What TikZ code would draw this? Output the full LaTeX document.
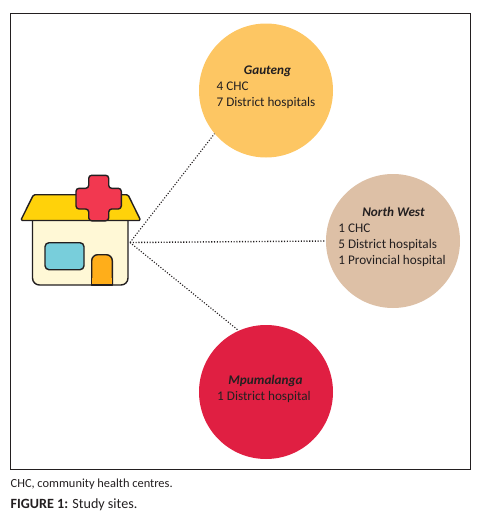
\documentclass[tikz,border=0pt]{standalone}
\usepackage{fontspec}
\setmainfont{Carlito}
\usepackage{xcolor}
\usepackage{tikz}
\definecolor{gautengc}{HTML}{FDC663}
\definecolor{northwestc}{HTML}{DDC0A6}
\definecolor{mpumalangac}{HTML}{E01F42}
\definecolor{roofc}{HTML}{FFD20A}
\definecolor{wallc}{HTML}{FFF8D6}
\definecolor{crossc}{HTML}{F23850}
\definecolor{windowc}{HTML}{78CEDB}
\definecolor{doorc}{HTML}{FFAE1A}
\definecolor{inkc}{HTML}{231F20}
\tikzset{
site/.style={circle,minimum size=134pt,inner sep=0pt},
sitetext/.style={align=left,inner sep=0pt,text=inkc,font=\fontsize{13.2}{16}\selectfont},
siteline/.style={line width=1.1pt,dash pattern=on 1.1pt off 1.7pt,inkc},
house/.style={line width=1.4pt,draw=inkc,line join=round},
note/.style={anchor=west,inner sep=0pt,text=inkc}
}
\newcommand{\sitename}[1]{\multicolumn{1}{c}{\hspace{3pt}\textbf{\textit{#1}}}}
\begin{document}
\begin{tikzpicture}[x=1pt,y=-1pt]
\useasboundingbox(0,0)rectangle(479,522);
\draw[line width=1pt,inkc](10.5,13.5)rectangle(470.5,469.5);
\node[site,fill=gautengc](gauteng)at(266,90.5){};
\node[site,fill=northwestc](northwest)at(393,241){};
\node[site,fill=mpumalangac](mpumalanga)at(266,392){};
\node[sitetext](gautengtext)at(266,87){\begin{tabular}{@{}l@{}}\sitename{Gauteng}\\4 CHC\\7 District hospitals\end{tabular}};
\node[sitetext](northwesttext)at(392,237){\begin{tabular}{@{}l@{}}\sitename{North West}\\1 CHC\\5 District hospitals\\1 Provincial hospital\end{tabular}};
\node[sitetext](mpumalangatext)at(264,389.5){\begin{tabular}{@{}l@{}}\sitename{Mpumalanga}\\1 District hospital\end{tabular}};
\coordinate(hub)at(130,242.5);
\draw[siteline](hub)--(gauteng.220);
\draw[siteline,line width=1.4pt](hub)--(northwest.west);
\draw[siteline](hub)--(mpumalanga.114);
% house
\draw[house,fill=wallc,rounded corners=7pt](32.5,221)--(32.5,285)--(128,285)--(128,221);
\draw[house,fill=windowc,rounded corners=4pt](45,242.7)rectangle(84,269.7);
\draw[house,fill=doorc,rounded corners=6pt](91.7,285)--(91.7,254.7)--(112.3,254.7)--(112.3,285);
\draw[house,fill=doorc](91.7,278)--(91.7,285)--(112.3,285)--(112.3,278);
\draw[house,fill=roofc,rounded corners=1.5pt](33.5,194.7)--(128,194.7)--(140.7,220.5)--(20.7,220.5)--cycle;
\draw[house,fill=crossc,rounded corners=3pt](88.7,175.3)--(108.7,175.3)--(108.7,188.3)--(121.3,188.3)--(121.3,209)--(108.7,209)--(108.7,220.8)--(88.7,220.8)--(88.7,209)--(76,209)--(76,188.3)--(88.7,188.3)--cycle;
\node[note,font=\fontsize{12.4}{14}\selectfont](abbrev)at(10.5,484){CHC, community health centres.};
\node[note,font=\fontsize{14.1}{16}\selectfont](caption)at(10.5,504.5){\textbf{FIGURE 1:} Study sites.};
\end{tikzpicture}
\end{document}
